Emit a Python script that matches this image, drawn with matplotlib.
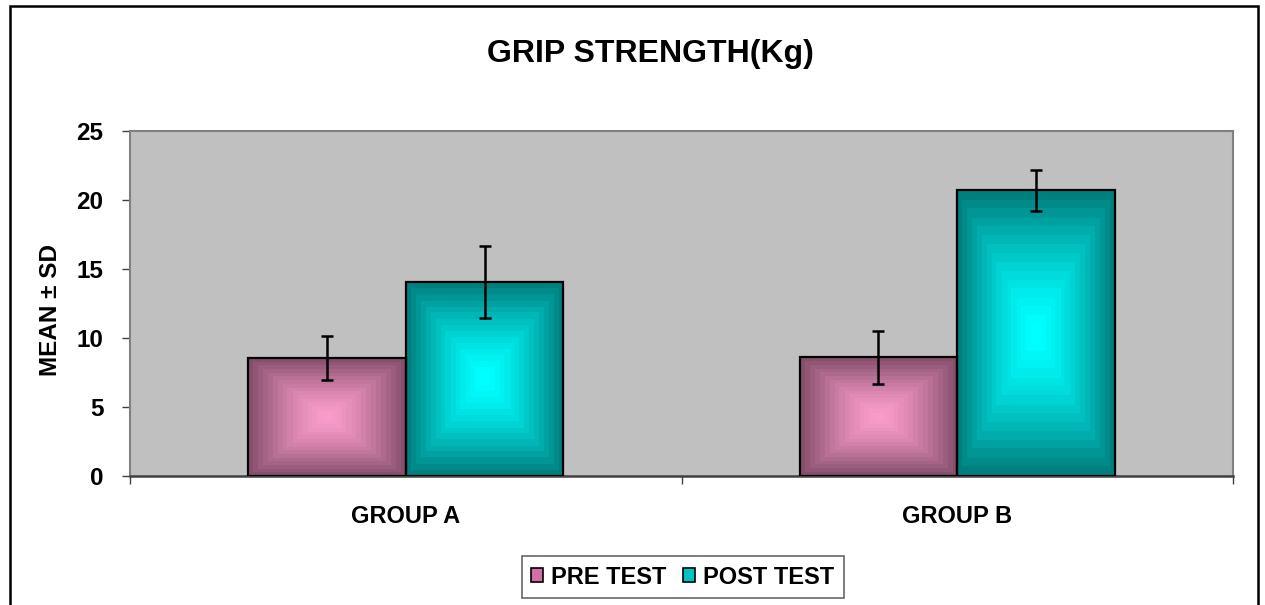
import numpy as np
import matplotlib
matplotlib.use("Agg")
import matplotlib.pyplot as plt
from matplotlib.colors import LinearSegmentedColormap
from matplotlib.patches import Rectangle, Patch

plt.rcParams['font.family'] = ['Liberation Sans', 'DejaVu Sans']
plt.rcParams['font.weight'] = 'bold'

# data
groups = ["GROUP A", "GROUP B"]
series = ["PRE TEST", "POST TEST"]
pre_mean = [8.55, 8.6]
pre_sd = [1.6, 1.9]
post_mean = [14.05, 20.7]
post_sd = [2.6, 1.5]

# gradient colours (edge -> centre)
pre_colors = ["#7c4964", "#f99bca"]
post_colors = ["#007373", "#00ffff"]

fig = plt.figure(figsize=(12.65, 6.05), dpi=100)
ax = fig.add_axes([130 / 1265, 1 - 476 / 605, (1233 - 130) / 1265, (476 - 131) / 605])
ax.set_facecolor("#c0c0c0")

x = np.arange(len(groups))
w = 2 / 7  # excel gap width 150


def gradient_fill(bar, colors):
    cmap = LinearSegmentedColormap.from_list("g", [colors[1], colors[0]])
    n = 300
    u = np.linspace(-1, 1, n)
    uu, vv = np.meshgrid(u, u)
    t = np.maximum(np.abs(uu), np.abs(vv))
    t = np.floor(t * 16) / 16  # stepped bands like the original
    t = t ** 1.4
    x0, y0 = bar.get_x(), bar.get_y()
    im = ax.imshow(t, cmap=cmap, vmin=0, vmax=1, aspect="auto", origin="lower",
                   extent=[x0, x0 + bar.get_width(), y0, y0 + bar.get_height()],
                   zorder=2, interpolation="nearest")
    im.set_clip_path(bar)


bars_pre = ax.bar(x - w / 2, pre_mean, w, facecolor="none", edgecolor="black", linewidth=1.6, zorder=3)
bars_post = ax.bar(x + w / 2, post_mean, w, facecolor="none", edgecolor="black", linewidth=1.6, zorder=3)
for b in bars_pre:
    gradient_fill(b, pre_colors)
for b in bars_post:
    gradient_fill(b, post_colors)

ax.errorbar(x - w / 2, pre_mean, yerr=pre_sd, fmt="none", ecolor="black", elinewidth=1.8,
            capsize=4.5, capthick=1.8, zorder=4)
ax.errorbar(x + w / 2, post_mean, yerr=post_sd, fmt="none", ecolor="black", elinewidth=1.8,
            capsize=4.5, capthick=1.8, zorder=4)

ax.set_xlim(-0.5, 1.5)
ax.set_ylim(0, 25)
ax.set_yticks([0, 5, 10, 15, 20, 25])
ax.set_xticks(x)
ax.set_xticklabels(groups)
ax.set_xticks([-0.5, 0.5, 1.5], minor=True)
ax.tick_params(axis="x", which="major", length=0, pad=21, labelsize=17)
ax.tick_params(axis="x", which="minor", length=6, width=1, color="#404040", direction="out")
ax.tick_params(axis="y", length=6, width=1, color="#404040", direction="out", pad=13, labelsize=17.5)
for lab in ax.get_xticklabels() + ax.get_yticklabels():
    lab.set_fontweight("bold")

for s in ["top", "right", "left"]:
    ax.spines[s].set_color("#808080")
    ax.spines[s].set_linewidth(1.5)
ax.spines["bottom"].set_color("#404040")
ax.spines["bottom"].set_linewidth(1.8)

ax.set_ylabel("MEAN ± SD", fontsize=17.5, fontweight="bold")
ax.yaxis.set_label_coords(-0.062, 0.48)

fig.text(650 / 1265, 1 - 54 / 605, "GRIP STRENGTH(Kg)", fontsize=23, fontweight="bold",
         ha="center", va="center")

handles = [Patch(facecolor="#d070a4", edgecolor="black", linewidth=1.2),
           Patch(facecolor="#00c4c4", edgecolor="black", linewidth=1.2)]
leg = fig.legend(handles, series, loc="center", bbox_to_anchor=(683 / 1265, 1 - 577 / 605),
                 ncol=2, prop={"weight": "bold", "size": 17}, frameon=True, fancybox=False,
                 handlelength=0.5, handleheight=0.5, handletextpad=0.35, columnspacing=0.7,
                 borderpad=0.4, borderaxespad=0)
leg.get_frame().set_edgecolor("#404040")
leg.get_frame().set_linewidth(1.2)

# outer chart border (bottom edge falls off the image)
fig.patches.append(Rectangle((10 / 1265, -0.05), (1258 - 10) / 1265, 1 - 6 / 605 + 0.05,
                             transform=fig.transFigure, fill=False, edgecolor="black",
                             linewidth=1.8, zorder=0))

fig.savefig("out.png", dpi=100)
